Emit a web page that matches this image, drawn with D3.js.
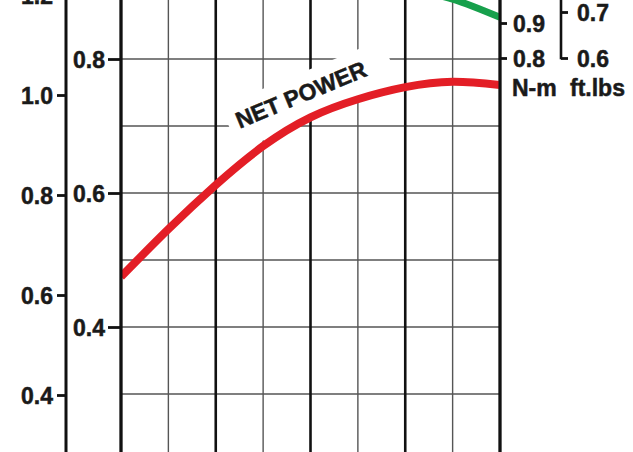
<!DOCTYPE html>
<html><head><meta charset="utf-8">
<script src="https://cdn.jsdelivr.net/npm/d3@7"></script>
<style>
html,body{margin:0;padding:0;background:#fff}
svg{display:block}
text{font-family:"Liberation Sans",Arial,Helvetica,sans-serif;font-weight:bold;fill:#1a1a1a;stroke:#1a1a1a;stroke-width:0.5px}
</style>
</head><body><svg id="c" width="633" height="452"></svg>
<script>
// ---- data ----
const gridX = [0, 1, 2, 3, 4, 5, 6, 7, 8];          // engine-speed grid steps
const majorX = [0, 2, 4, 6, 8];
const netPowerX = [0, 1, 2, 3, 4, 5, 6, 7, 8];
const netPower = [0.475, 0.546, 0.612, 0.670, 0.713, 0.740, 0.758, 0.766, 0.761]; // inner-left scale
const torqueX = [6, 7, 8];
const torqueNm = [1.000, 0.968, 0.916];               // N-m scale
const innerTicks = [0.4, 0.6, 0.8];
const innerGrid = [0.3, 0.4, 0.5, 0.6, 0.7, 0.8, 0.9];
const outerTicks = [0.4, 0.6, 0.8, 1.0, 1.2];
const nmTicks = [0.8, 0.9, 1.0];
const ftTicks = [0.6, 0.7];
const curveLabel = "NET POWER";
const unitNm = "N-m", unitFt = "ft.lbs";

// ---- scales ----
const x = d3.scaleLinear([0, 8], [121, 500]);
const yInner = d3.scaleLinear([0.4, 0.8], [327, 59]);
const yOuter = d3.scaleLinear([0.4, 1.0], [395, 95]);
const yNm = d3.scaleLinear([0.8, 0.9], [58, 23]);
const yFt = d3.scaleLinear([0.6, 0.7], [58, 12]);

const FS = 23;
const svg = d3.select("#c");
svg.append("rect").attr("width", 633).attr("height", 452).attr("fill", "#fff");
const fmt = d3.format(".1f");

// ---- grid ----
const grid = svg.append("g");
grid.selectAll("line.h").data(innerGrid).join("line")
  .attr("x1", x(0)).attr("x2", x(8))
  .attr("y1", d => yInner(d)).attr("y2", d => yInner(d))
  .attr("stroke", "#555").attr("stroke-width", 1.4);
grid.selectAll("line.v").data(gridX).join("line")
  .attr("x1", d => x(d)).attr("x2", d => x(d))
  .attr("y1", -10).attr("y2", 470)
  .attr("stroke", d => majorX.includes(d) ? "#111" : "#555")
  .attr("stroke-width", d => majorX.includes(d) ? 2.6 : 1.4);

// ---- label with white knock-out ----
const cx = 304, cy = 102, ang = -22.5;
const lab = svg.append("g").attr("transform", `translate(${cx},${cy}) rotate(${ang})`);
const halo = lab.append("rect").attr("fill", "#fff");
const lt = lab.append("text").attr("text-anchor", "middle")
  .attr("font-size", 23).text(curveLabel);
const L = lt.node().getComputedTextLength();
halo.attr("x", -L / 2 - 9).attr("y", -28).attr("width", L + 9 + 26).attr("height", 48);

// ---- curves ----
svg.append("clipPath").attr("id", "plot").append("rect")
  .attr("x", x(0)).attr("y", -20).attr("width", x(8) - x(0)).attr("height", 500);
const curves = svg.append("g").attr("clip-path", "url(#plot)");
curves.append("path")
  .datum(netPowerX.map((d, i) => [d, netPower[i]]))
  .attr("fill", "none").attr("stroke", "#e31e26").attr("stroke-width", 8)
  .attr("d", d3.line().x(d => x(d[0])).y(d => yInner(d[1])).curve(d3.curveNatural));
curves.append("path")
  .datum(torqueX.map((d, i) => [d, torqueNm[i]]))
  .attr("fill", "none").attr("stroke", "#17a04c").attr("stroke-width", 7)
  .attr("d", d3.line().x(d => x(d[0])).y(d => yNm(d[1])).curve(d3.curveNatural));

// ---- axes ----
function styleAxis(g) {
  g.select(".domain").remove();
  g.selectAll(".tick line").attr("stroke", "#111").attr("stroke-width", 2.8);
  g.selectAll(".tick text").attr("font-size", FS).attr("fill", "#1a1a1a")
    .attr("font-family", '"Liberation Sans",Arial,sans-serif').attr("font-weight", "bold")
    .attr("dy", "0.36em");
}
function vline(xp, y1, y2, w) {
  svg.append("line").attr("x1", xp).attr("x2", xp).attr("y1", y1).attr("y2", y2)
    .attr("stroke", "#111").attr("stroke-width", w);
}
vline(66, -10, 470, 3);
vline(x(0), -10, 470, 3);
vline(x(8), -10, 470, 3);
vline(561, -10, yFt(0.6) + 1.3, 2.6);

svg.append("g").attr("transform", "translate(66,0)")
  .call(d3.axisLeft(yOuter).tickValues(outerTicks).tickFormat(fmt).tickSize(9).tickPadding(4))
  .call(styleAxis);
svg.append("g").attr("transform", `translate(${x(0)},0)`)
  .call(d3.axisLeft(yInner).tickValues(innerTicks).tickFormat(fmt).tickSize(13).tickPadding(3))
  .call(styleAxis);
svg.append("g").attr("transform", `translate(${x(8)},0)`)
  .call(d3.axisRight(yNm).tickValues(nmTicks).tickFormat(fmt).tickSize(7).tickPadding(6))
  .call(styleAxis);
svg.append("g").attr("transform", "translate(561,0)")
  .call(d3.axisRight(yFt).tickValues(ftTicks).tickFormat(fmt).tickSize(7).tickPadding(9))
  .call(styleAxis);

svg.append("text").attr("x", 512).attr("y", 88).attr("dy", "0.36em")
  .attr("font-size", FS).text(unitNm);
svg.append("text").attr("x", 570).attr("y", 88).attr("dy", "0.36em")
  .attr("font-size", FS).text(unitFt);
</script>
</body></html>
